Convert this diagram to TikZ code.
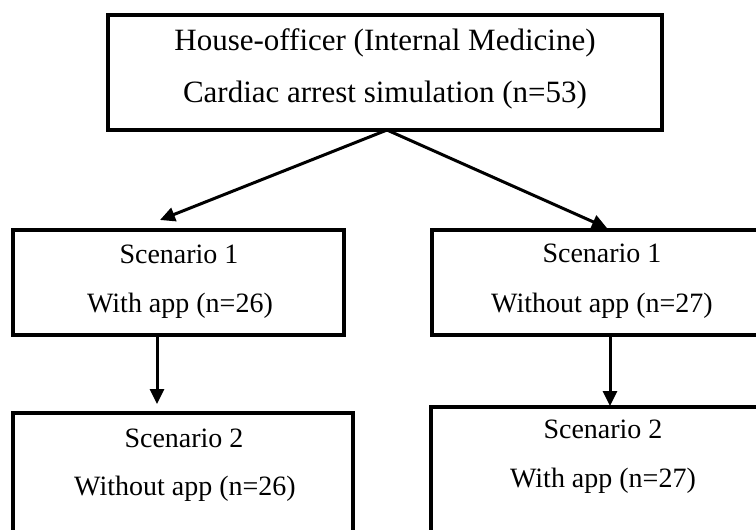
\documentclass[tikz,border=0pt]{standalone}
\usepackage{fontspec}
\setmainfont{Liberation Serif}
\usetikzlibrary{arrows.meta}
\begin{document}
\begin{tikzpicture}[x=1pt,y=-1pt,
  box/.style={draw,line width=3.2pt,rectangle,inner sep=0pt,outer sep=0pt,anchor=north west},
  bigtxt/.style={anchor=base,inner sep=0pt,font=\fontsize{31}{37}\selectfont},
  txt/.style={anchor=base,inner sep=0pt,font=\fontsize{28}{34}\selectfont},
  arr/.style={line width=3pt,-{Triangle[length=15pt,width=14pt]}}]
\useasboundingbox (0,0) rectangle (756,530);
\clip (0,0) rectangle (756,530);
\fill[white] (0,0) rectangle (756,530);
% boxes
\node[box,minimum width=554pt,minimum height=115pt] (top) at (108,15) {};
\node[box,minimum width=331pt,minimum height=105pt] (s1l) at (13,230) {};
\node[box,minimum width=340pt,minimum height=105pt] (s1r) at (432,230) {};
\node[box,minimum width=340pt,minimum height=160pt] (s2l) at (13,413) {};
\node[box,minimum width=340pt,minimum height=160pt] (s2r) at (431,407) {};
% texts
\node[bigtxt] (t1) at (385,50) {House-officer (Internal Medicine)};
\node[bigtxt] (t2) at (385,102) {Cardiac arrest simulation (n=53)};
\node[txt] (l1) at (179,263) {Scenario 1};
\node[txt] (l2) at (180,312) {With app (n=26)};
\node[txt] (r1) at (602,262) {Scenario 1};
\node[txt] (r2) at (602,312) {Without app (n=27)};
\node[txt] (bl1) at (184,447) {Scenario 2};
\node[txt] (bl2) at (185,495) {Without app (n=26)};
\node[txt] (br1) at (603,438) {Scenario 2};
\node[txt] (br2) at (603,487) {With app (n=27)};
% arrow ends
\coordinate (pl) at (160,220);
\coordinate (pr) at (607,228);
\coordinate (vl) at (157,404);
\coordinate (vr) at (610,406);
\draw[arr] ([xshift=2pt]top.south) -- (pl);
\draw[arr] ([xshift=2pt]top.south) -- (pr);
\draw[arr] (s1l.south -| vl) -- (vl);
\draw[arr] (s1r.south -| vr) -- (vr);
\end{tikzpicture}
\end{document}
